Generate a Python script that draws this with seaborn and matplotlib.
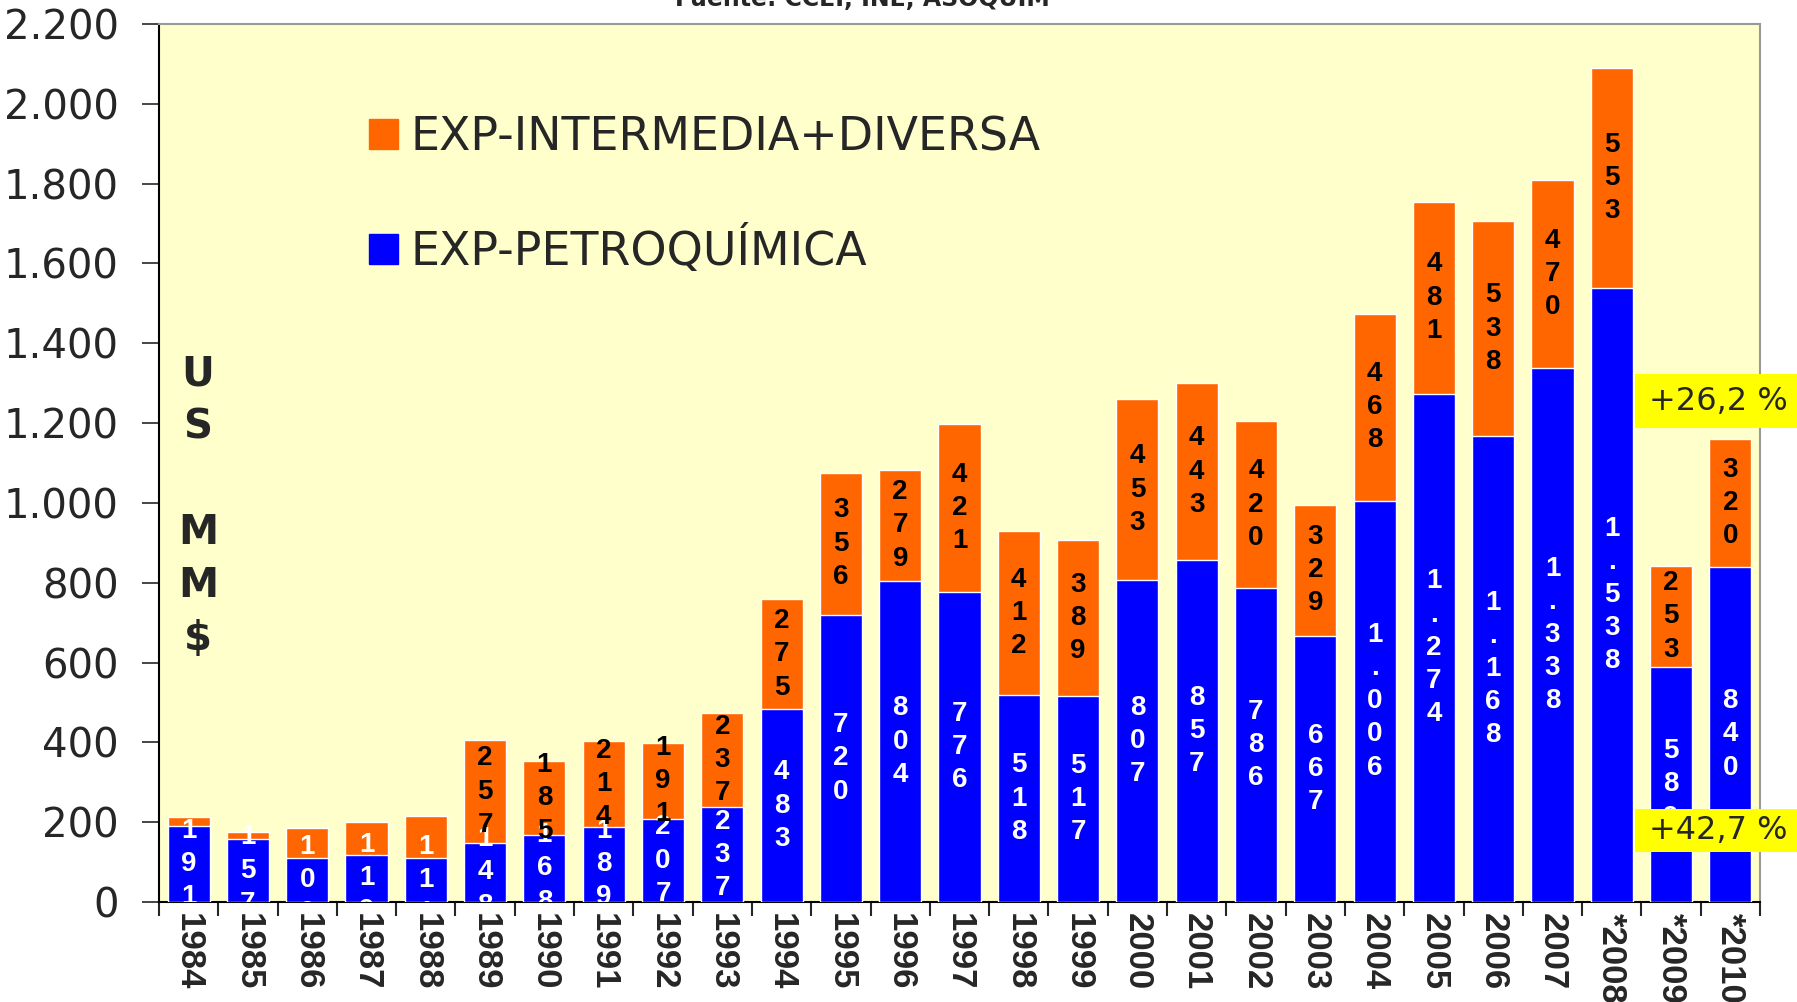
import numpy as np
import pandas as pd
import seaborn as sns
import matplotlib.pyplot as plt
from matplotlib.patches import Rectangle, Patch
from matplotlib.ticker import FuncFormatter

# Data (US MM$)
years = ["1984", "1985", "1986", "1987", "1988", "1989", "1990", "1991", "1992",
         "1993", "1994", "1995", "1996", "1997", "1998", "1999", "2000", "2001",
         "2002", "2003", "2004", "2005", "2006", "2007", "*2008", "*2009", "*2010"]
petroquimica = [191, 157, 109, 119, 111, 148, 168, 189, 207, 237, 483, 720, 804,
                776, 518, 517, 807, 857, 786, 667, 1006, 1274, 1168, 1338, 1538,
                589, 840]
intermedia = [23, 19, 77, 82, 105, 257, 185, 214, 191, 237, 275, 356, 279, 421,
              412, 389, 453, 443, 420, 329, 468, 481, 538, 470, 553, 253, 320]
# orange labels are not shown for the first five years
show_orange_label = [False] * 5 + [True] * 22

BLUE = "#0000FF"
ORANGE = "#FF6600"
BG = "#FFFFCC"

df = pd.DataFrame({"year": years, "petro": petroquimica, "inter": intermedia})
df["total"] = df["petro"] + df["inter"]

sns.set_style("ticks")
plt.rcParams["font.family"] = ["DejaVu Sans"]

fig = plt.figure(figsize=(17.97, 10.02), dpi=100)
ax = fig.add_axes([159 / 1797, 1 - 902 / 1002, 1601 / 1797, 878 / 1002])
ax.set_facecolor(BG)

sns.barplot(data=df, x="year", y="total", color=ORANGE, width=0.71,
            saturation=1, ax=ax, zorder=2)
sns.barplot(data=df, x="year", y="petro", color=BLUE, width=0.71,
            saturation=1, ax=ax, zorder=3)


def fmt_thousands(v):
    return f"{int(v):,}".replace(",", ".")


lab_font = dict(family=["Liberation Sans", "DejaVu Sans"], fontweight="bold",
                fontsize=20, ha="center", va="center", linespacing=1.36,
                clip_on=True, zorder=5)
for i, row in df.iterrows():
    txt = "\n".join(fmt_thousands(row["petro"]))
    ax.text(i, row["petro"] / 2, txt, color="white", **lab_font)
    if show_orange_label[i]:
        txt = "\n".join(fmt_thousands(row["inter"]))
        ax.text(i, row["petro"] + row["inter"] / 2, txt, color="black", **lab_font)

# axes
ax.set_ylim(0, 2200)
ax.set_xlim(-0.5, len(years) - 0.5)
ax.set_yticks(np.arange(0, 2201, 200))
ax.yaxis.set_major_formatter(FuncFormatter(lambda v, p: fmt_thousands(v)))
ax.tick_params(axis="y", labelsize=29, length=12, width=1.2, pad=17)
for lbl in ax.get_yticklabels():
    lbl.set_fontfamily(["DejaVu Sans"])

ax.set_xticks(np.arange(-0.5, len(years), 1))
ax.set_xticklabels([])
ax.set_xticks(np.arange(len(years)), minor=True)
ax.set_xticklabels(years, minor=True, rotation=-90, fontsize=25,
                   fontweight="bold",
                   family=["Liberation Sans Narrow", "Liberation Sans"],
                   va="top", ha="center")
ax.tick_params(axis="x", which="major", length=10, width=1.5)
ax.tick_params(axis="x", which="minor", length=0, pad=8)
ax.set_xlabel("")
ax.set_ylabel("")

for s in ["left", "bottom"]:
    ax.spines[s].set_color("black")
    ax.spines[s].set_linewidth(1.5)
for s in ["top", "right"]:
    ax.spines[s].set_visible(True)
    ax.spines[s].set_color("#999999")
    ax.spines[s].set_linewidth(1.5)

# unit label
ax.text((198 - 159) / 1601, 0.45, "U\nS\n\nM\nM\n$",
        transform=ax.transAxes, ha="center", va="center", fontsize=29,
        fontweight="bold", linespacing=1.42, zorder=6)

# legend
handles = [Patch(color=ORANGE, label="EXP-INTERMEDIA+DIVERSA"),
           Patch(color=BLUE, label="EXP-PETROQUÍMICA")]
leg = ax.legend(handles=handles, loc="upper left",
                bbox_to_anchor=((369 - 159) / 1601, 1 - 91 / 878), frameon=False,
                fontsize=33, handlelength=0.63, handleheight=0.63,
                handletextpad=0.27, labelspacing=1.45, borderpad=0,
                borderaxespad=0)

# percentage boxes
for y0, y1, label in [(374, 428, "+26,2 %"), (809, 852, "+42,7 %")]:
    fig.patches.append(Rectangle((1635 / 1797, 1 - y1 / 1002), 170 / 1797,
                                 (y1 - y0) / 1002, transform=fig.transFigure,
                                 facecolor="#FFFF00", edgecolor="none",
                                 zorder=10))
    fig.text(1718 / 1797, 1 - (y0 + y1) / 2 / 1002, label, ha="center",
             va="center", fontsize=23, zorder=11)

# source note (cut off at the top edge)
fig.text(862 / 1797, 1 - 6 / 1002, "Fuente: CCEI, INE, ASOQUIM", ha="center",
         va="baseline", fontsize=17, fontweight="bold")

fig.savefig("out.png", dpi=100, facecolor="white")
